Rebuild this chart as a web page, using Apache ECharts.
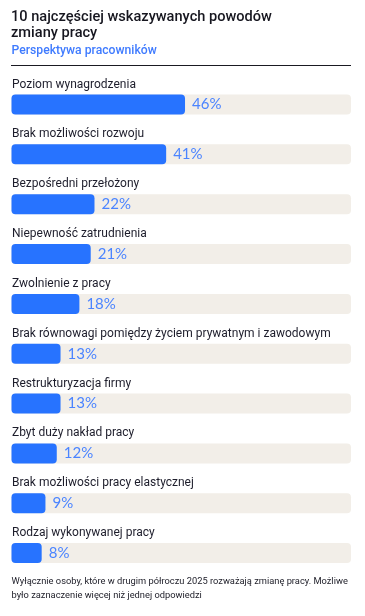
<!DOCTYPE html>
<html><head><meta charset="utf-8">
<script src="https://cdn.jsdelivr.net/npm/echarts@6/dist/echarts.min.js"></script>
<style>html,body{margin:0;padding:0;background:#fff}#c{width:365px;height:616px}</style>
</head><body><div id="c"></div>
<script>
const categories = [
  "Poziom wynagrodzenia",
  "Brak możliwości rozwoju",
  "Bezpośredni przełożony",
  "Niepewność zatrudnienia",
  "Zwolnienie z pracy",
  "Brak równowagi pomiędzy życiem prywatnym i zawodowym",
  "Restrukturyzacja firmy",
  "Zbyt duży nakład pracy",
  "Brak możliwości pracy elastycznej",
  "Rodzaj wykonywanej pracy"
];
const values = [46, 41, 22, 21, 18, 13, 13, 12, 9, 8];
const trackMax = 90;
const titleText = "10 najczęściej wskazywanych powodów\nzmiany pracy";
const subtitleText = "Perspektywa pracowników";
const footnoteText = "Wyłącznie osoby, które w drugim półroczu 2025 rozważają zmianę pracy. Możliwe\nbyło zaznaczenie więcej niż jednej odpowiedzi";

const FONT = "Roboto, 'Noto Sans', sans-serif";
const FONT2 = "Lato, 'Noto Sans', sans-serif";
const chart = echarts.init(document.getElementById('c'), null, {renderer: 'canvas'});
chart.setOption({
  animation: false,
  backgroundColor: '#ffffff',
  grid: {left: 11.5, right: 14, top: 79.6, bottom: 38, containLabel: false},
  xAxis: {type: 'value', min: 0, max: trackMax, show: false},
  yAxis: {type: 'category', data: categories, inverse: true, show: false},
  series: [
    {
      type: 'bar',
      data: values,
      barWidth: 20,
      showBackground: true,
      backgroundStyle: {color: '#F2EEE8', borderRadius: 4},
      itemStyle: {color: '#2773FF', borderRadius: 4},
      label: {
        show: true, position: 'right', distance: 7,
        formatter: '{c}%', color: '#4B84FF', fontSize: 15, fontFamily: FONT2
      },
      z: 3
    },
    {
      type: 'bar',
      data: values.map(() => trackMax),
      barWidth: 20,
      barGap: '-100%',
      itemStyle: {color: 'rgba(0,0,0,0)'},
      label: {
        show: true, position: [0.5, -4], align: 'left', verticalAlign: 'bottom',
        formatter: '{b}', color: '#1d1d2b', fontSize: 12, fontFamily: FONT
      },
      silent: true,
      z: 2
    }
  ],
  graphic: [
    {type: 'text', left: 11, top: 9, style: {text: titleText, font: "500 14.6px " + FONT, fill: '#16161f', lineHeight: 16}},
    {type: 'text', left: 11.5, top: 45, style: {text: subtitleText, font: "500 12.2px " + FONT, fill: '#3F7BFF'}},
    {type: 'line', shape: {x1: 11, y1: 65.5, x2: 351, y2: 65.5}, style: {stroke: '#1a1a22', lineWidth: 1}},
    {type: 'text', left: 11.5, top: 575, style: {text: footnoteText, font: "9.3px " + FONT, fill: '#22222c', lineHeight: 14}}
  ]
});
</script></body></html>
